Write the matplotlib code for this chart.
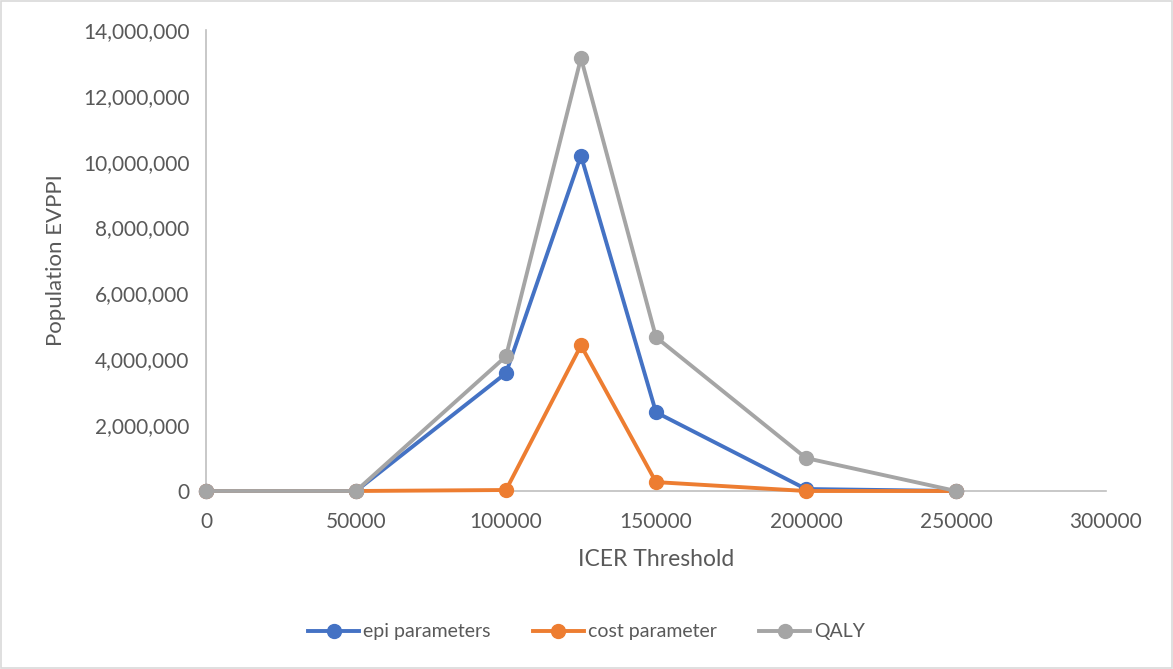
import matplotlib.pyplot as plt
from matplotlib.ticker import FuncFormatter
from matplotlib.patches import Rectangle

plt.rcParams['font.family'] = ['Lato', 'DejaVu Sans']

# ICER thresholds and population EVPPI for each parameter group
thresholds = [0, 50000, 100000, 125000, 150000, 200000, 250000]
epi_params = [0, 0, 3580000, 10180000, 2390000, 60000, 0]
cost_param = [0, 0, 30000, 4420000, 270000, 0, 0]
qaly = [0, 0, 4090000, 13150000, 4670000, 1000000, 0]

series_names = ['epi parameters', 'cost parameter', 'QALY']
series_colors = ['#4472C4', '#ED7D31', '#A5A5A5']
text_col = '#595959'

fig = plt.figure(figsize=(11.73, 6.69), dpi=100)
ax = fig.add_axes([206/1173, 1-491/669, 900/1173, 461/669])

for vals, name, col in zip([epi_params, cost_param, qaly], series_names, series_colors):
    ax.plot(thresholds, vals, color=col, lw=2.8, marker='o', markersize=10,
            label=name, clip_on=False, zorder=3)

ax.set_xlim(0, 300000)
ax.set_ylim(0, 14000000)
ax.set_xticks(range(0, 300001, 50000))
ax.set_yticks(range(0, 14000001, 2000000))
ax.yaxis.set_major_formatter(FuncFormatter(lambda v, p: f'{int(v):,}'))
ax.tick_params(length=0, labelsize=15, colors=text_col)
ax.tick_params(axis='x', pad=15)
ax.tick_params(axis='y', pad=12)

for s in ['top', 'right']:
    ax.spines[s].set_visible(False)
for s in ['left', 'bottom']:
    ax.spines[s].set_color('#BFBFBF')
    ax.spines[s].set_linewidth(1.2)

ax.set_xlabel('ICER Threshold', fontsize=16.5, color=text_col, labelpad=12)
ax.set_ylabel('Population EVPPI', fontsize=16, color=text_col, labelpad=12)

fig.legend(loc='center', bbox_to_anchor=(0.5, 1-632/669), ncol=3, frameon=False,
           fontsize=14, labelcolor=text_col, handlelength=2.6, columnspacing=2.2,
           handletextpad=0.2)

fig.patches.append(Rectangle((0.001, 0.001), 0.998, 0.997, transform=fig.transFigure,
                             fill=False, edgecolor='#D9D9D9', lw=1.2))

fig.savefig('out.png', dpi=100)
